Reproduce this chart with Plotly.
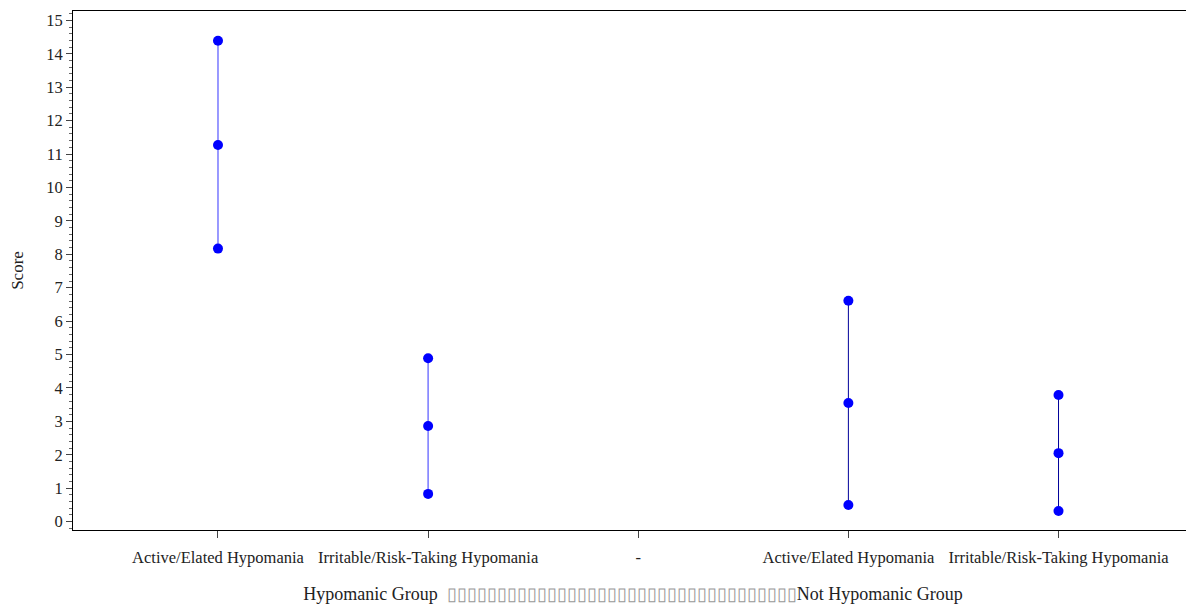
import plotly.graph_objects as go

# Data
categories = ["Active/Elated Hypomania", "Irritable/Risk-Taking Hypomania", "-",
              "Active/Elated Hypomania", "Irritable/Risk-Taking Hypomania"]
group = ["Hypomanic", "Hypomanic", None, "Not Hypomanic", "Not Hypomanic"]
lower = [8.17, 0.83, None, 0.50, 0.32]
mean = [11.27, 2.86, None, 3.55, 2.05]
upper = [14.39, 4.89, None, 6.61, 3.79]

line_colors = {"Hypomanic": "#8080ff", "Not Hypomanic": "#000099"}
line_widths = {"Hypomanic": 1.6, "Not Hypomanic": 1.0}

fig = go.Figure()
for g in ["Hypomanic", "Not Hypomanic"]:
    xs, ys = [], []
    for i, gg in enumerate(group):
        if gg == g:
            xs += [i, i, i, None]
            ys += [lower[i], mean[i], upper[i], None]
    fig.add_trace(go.Scatter(
        x=xs, y=ys, mode="lines",
        line=dict(color=line_colors[g], width=line_widths[g]),
        showlegend=False, hoverinfo="skip"))

mx, my = [], []
for i in range(len(categories)):
    if mean[i] is not None:
        mx += [i, i, i]
        my += [lower[i], mean[i], upper[i]]
fig.add_trace(go.Scatter(x=mx, y=my, mode="markers",
                         marker=dict(color="#0000ff", size=10),
                         showlegend=False))

boxes = "\u25af" * 35
xtitle = ("Hypomanic Group  <span style='color:#999999'>" + boxes +
          "</span>Not Hypomanic Group")

font = "Liberation Serif, Times New Roman, serif"
fig.update_layout(
    width=1186, height=598,
    margin=dict(l=65, r=1, t=3, b=76),
    plot_bgcolor="white", paper_bgcolor="white",
    font=dict(family=font, size=17, color="#222222"),
    xaxis=dict(
        automargin=False,
        range=[-0.69, 4.64],
        tickmode="array", tickvals=list(range(len(categories))), ticktext=categories,
        showgrid=False, zeroline=False,
        showline=True, linecolor="#000000", linewidth=1, mirror=True,
        ticks="outside", ticklen=7, tickcolor="#444444",
        ticklabelstandoff=5,
        tickfont=dict(size=16.5),
        title=dict(text=xtitle, font=dict(size=18), standoff=21),
    ),
    yaxis=dict(
        automargin=False,
        range=[-0.25, 15.28],
        tickmode="linear", tick0=0, dtick=1,
        showgrid=False, zeroline=False,
        showline=True, linecolor="#000000", linewidth=1,
        ticks="outside", ticklen=6, tickcolor="#444444",
        minor=dict(ticks="outside", ticklen=3, dtick=0.2, tickcolor="#666666"),
        tickfont=dict(size=16.5),
        title=dict(text="Score", font=dict(size=17), standoff=19),
    ),
)

fig.write_html("out.html")
